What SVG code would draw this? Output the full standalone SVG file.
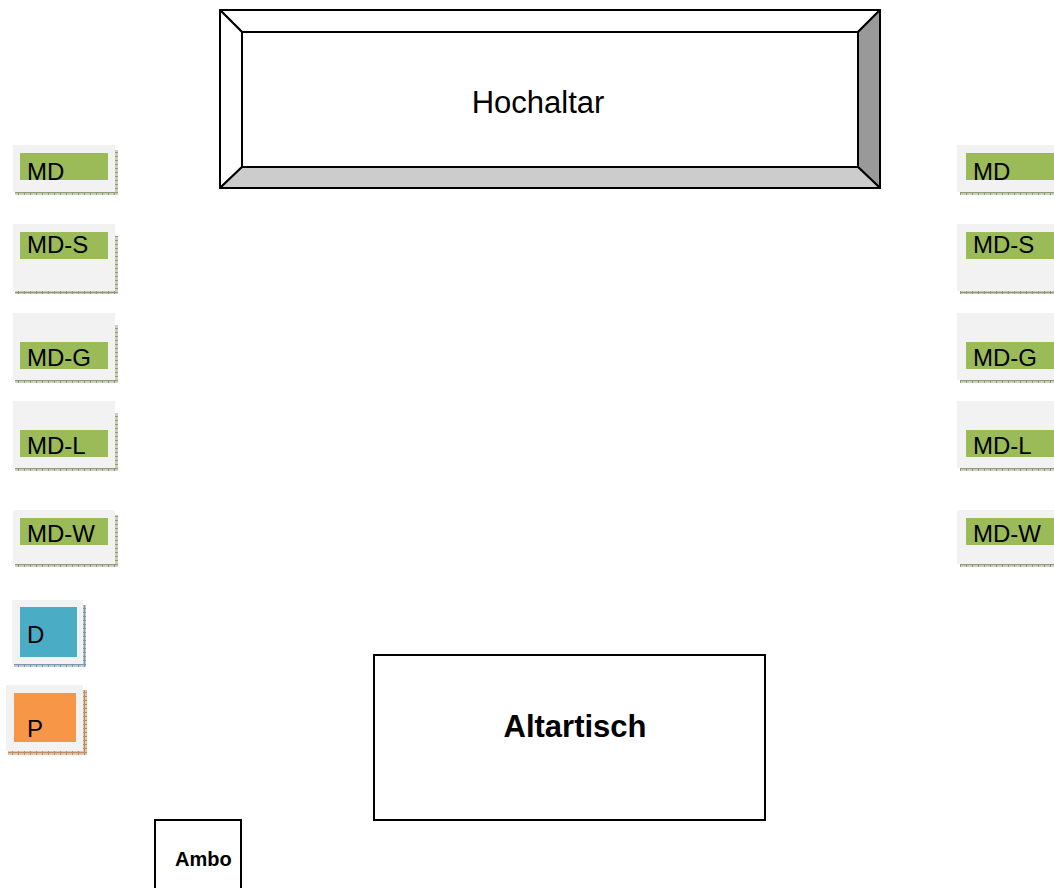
<svg xmlns="http://www.w3.org/2000/svg" width="1054" height="888" viewBox="0 0 1054 888">
  <defs>
    <pattern id="texG" width="6" height="4" patternUnits="userSpaceOnUse">
      <rect width="6" height="4" fill="#c9cfb8"/>
      <path d="M0 0.5H6M0.5 0V4" stroke="#8f9a78" stroke-width="1"/>
    </pattern>
    <pattern id="texB" width="6" height="4" patternUnits="userSpaceOnUse">
      <rect width="6" height="4" fill="#b9cdd6"/>
      <path d="M0 0.5H6M0.5 0V4" stroke="#7c98a8" stroke-width="1"/>
    </pattern>
    <pattern id="texO" width="6" height="4" patternUnits="userSpaceOnUse">
      <rect width="6" height="4" fill="#e4c2a4"/>
      <path d="M0 0.5H6M0.5 0V4" stroke="#b98d68" stroke-width="1"/>
    </pattern>
  </defs>
  <style>
    .lbl { font-family: "Liberation Sans", Arial, sans-serif; font-size: 24px; fill: #000; }
    .big { font-family: "Liberation Sans", Arial, sans-serif; font-size: 31px; fill: #000; }
    .ambo { font-family: "Liberation Sans", Arial, sans-serif; font-size: 20px; font-weight: bold; fill: #000; }
    .bold { font-weight: bold; }
    .plate { fill: #f2f2f2; }
    .green { fill: #9bbb59; }
    .blue { fill: #4bacc6; }
    .orange { fill: #f79646; }
    .frame { fill: #fff; stroke: #000; stroke-width: 2; }
    .bevel { stroke: #000; stroke-width: 2; stroke-linejoin: round; }
  </style>

  <!-- High altar: bevelled frame -->
  <g id="hochaltar">
    <polygon class="bevel" points="220,10 880,10 858,32 242,32" fill="#ffffff"/>
    <polygon class="bevel" points="220,10 242,32 242,167 220,188" fill="#ffffff"/>
    <polygon class="bevel" points="880,10 880,188 858,167 858,32" fill="#999999"/>
    <polygon class="bevel" points="220,188 242,167 858,167 880,188" fill="#cccccc"/>
    <rect x="242" y="32" width="616" height="135" fill="#fff" stroke="#000" stroke-width="2"/>
    <text class="big" x="538" y="113" text-anchor="middle">Hochaltar</text>
  </g>

  <!-- Left column of servers -->
  <g id="md-left">
    <rect x="115" y="150" width="3" height="45" fill="url(#texG)"/>
    <rect x="15" y="192" width="103" height="3" fill="url(#texG)"/>
    <rect class="plate" x="13" y="145" width="102" height="47"/>
    <rect class="green" x="20" y="153" width="88" height="27"/>
    <text class="lbl" x="27" y="180">MD</text>
  </g>
  <g id="mds-left">
    <rect x="115" y="236" width="3" height="58" fill="url(#texG)"/>
    <rect x="15" y="291" width="103" height="3" fill="url(#texG)"/>
    <rect class="plate" x="13" y="224" width="102" height="67"/>
    <rect class="green" x="20" y="232" width="88" height="27"/>
    <text class="lbl" x="27" y="253">MD-S</text>
  </g>
  <g id="mdg-left">
    <rect x="115" y="325" width="3" height="58" fill="url(#texG)"/>
    <rect x="15" y="380" width="103" height="3" fill="url(#texG)"/>
    <rect class="plate" x="13" y="313" width="102" height="67"/>
    <rect class="green" x="20" y="342" width="88" height="27"/>
    <text class="lbl" x="27" y="366">MD-G</text>
  </g>
  <g id="mdl-left">
    <rect x="115" y="413" width="3" height="58" fill="url(#texG)"/>
    <rect x="15" y="468" width="103" height="3" fill="url(#texG)"/>
    <rect class="plate" x="13" y="401" width="102" height="67"/>
    <rect class="green" x="20" y="430" width="88" height="27"/>
    <text class="lbl" x="27" y="454">MD-L</text>
  </g>
  <g id="mdw-left">
    <rect x="115" y="515" width="3" height="52" fill="url(#texG)"/>
    <rect x="15" y="564" width="103" height="3" fill="url(#texG)"/>
    <rect class="plate" x="13" y="510" width="102" height="54"/>
    <rect class="green" x="20" y="518" width="88" height="27"/>
    <text class="lbl" x="27" y="542">MD-W</text>
  </g>

  <!-- Deacon and priest -->
  <g id="d">
    <rect x="83" y="605" width="3" height="62" fill="url(#texB)"/>
    <rect x="14" y="664" width="72" height="3" fill="url(#texB)"/>
    <rect class="plate" x="12" y="600" width="71" height="64"/>
    <rect class="blue" x="20" y="607" width="57" height="50"/>
    <text class="lbl" x="27" y="643">D</text>
  </g>
  <g id="p">
    <rect x="83" y="690" width="4" height="65" fill="url(#texO)"/>
    <rect x="8" y="751" width="79" height="4" fill="url(#texO)"/>
    <rect class="plate" x="6" y="685" width="77" height="66"/>
    <rect class="orange" x="14" y="693" width="62" height="49"/>
    <text class="lbl" x="27" y="737">P</text>
  </g>

  <!-- Right column of servers (cut off at the edge) -->
  <g id="md-right">
    <rect x="960" y="192" width="94" height="3" fill="url(#texG)"/>
    <rect class="plate" x="957" y="145" width="97" height="47"/>
    <rect class="green" x="966" y="153" width="88" height="27"/>
    <text class="lbl" x="973" y="180">MD</text>
  </g>
  <g id="mds-right">
    <rect x="960" y="291" width="94" height="3" fill="url(#texG)"/>
    <rect class="plate" x="957" y="224" width="97" height="67"/>
    <rect class="green" x="966" y="232" width="88" height="27"/>
    <text class="lbl" x="973" y="253">MD-S</text>
  </g>
  <g id="mdg-right">
    <rect x="960" y="380" width="94" height="3" fill="url(#texG)"/>
    <rect class="plate" x="957" y="313" width="97" height="67"/>
    <rect class="green" x="966" y="342" width="88" height="27"/>
    <text class="lbl" x="973" y="366">MD-G</text>
  </g>
  <g id="mdl-right">
    <rect x="960" y="468" width="94" height="3" fill="url(#texG)"/>
    <rect class="plate" x="957" y="401" width="97" height="67"/>
    <rect class="green" x="966" y="430" width="88" height="27"/>
    <text class="lbl" x="973" y="454">MD-L</text>
  </g>
  <g id="mdw-right">
    <rect x="960" y="564" width="94" height="3" fill="url(#texG)"/>
    <rect class="plate" x="957" y="510" width="97" height="54"/>
    <rect class="green" x="966" y="518" width="88" height="27"/>
    <text class="lbl" x="973" y="542">MD-W</text>
  </g>

  <!-- Altar table -->
  <g id="altartisch">
    <rect class="frame" x="374" y="655" width="391" height="165"/>
    <text class="big bold" x="575" y="737" text-anchor="middle">Altartisch</text>
  </g>

  <!-- Ambo -->
  <g id="ambo">
    <path d="M155 888V820H241V888" fill="#fff" stroke="#000" stroke-width="2"/>
    <text class="ambo" x="175" y="866">Ambo</text>
  </g>

  <g id="connectors"/>
</svg>
